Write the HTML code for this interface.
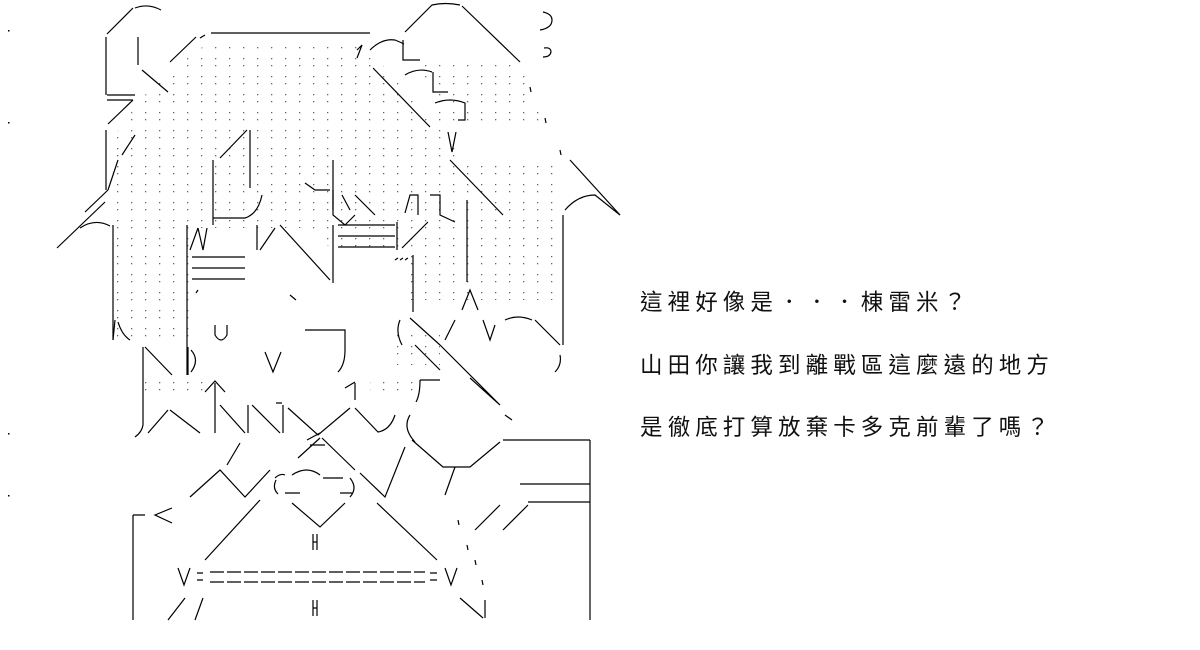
<!DOCTYPE html>
<html><head><meta charset="utf-8"><style>
html,body{margin:0;padding:0;background:#fff;width:1200px;height:650px;overflow:hidden}
.t{position:absolute;left:640px;font-family:"Liberation Sans","Noto Sans CJK TC","WenQuanYi Zen Hei",sans-serif;font-size:22.5px;color:#111;letter-spacing:5.1px;white-space:nowrap}
svg{position:absolute;left:0;top:0}
</style></head><body>
<svg width="1200" height="650" viewBox="0 0 1200 650">
<defs>
<pattern id="d" width="14" height="18" patternUnits="userSpaceOnUse">
<rect x="5" y="4" width="1.3" height="1.3" fill="#666"/><rect x="5" y="11" width="1.3" height="1.3" fill="#666"/>
</pattern>
</defs>
<g fill="url(#d)">
<polygon points="205,45 365,45 380,62 430,120 470,160 560,165 560,300 400,300 400,252 335,250 300,228 200,228 200,340 115,340 115,135 140,100 165,75"/>
<polygon points="420,60 520,62 545,125 440,125"/>
<polygon points="395,330 440,330 440,365 395,365"/>
<polygon points="145,378 210,378 210,400 145,400"/>
<polygon points="370,378 415,378 415,400 370,400"/>
</g>
<g fill="#000">
<rect x="8" y="30" width="1.5" height="1.5"/><rect x="8" y="122" width="1.5" height="1.5"/><rect x="8" y="433" width="1.5" height="1.5"/><rect x="8" y="495" width="1.5" height="1.5"/>
</g>
<g stroke="#000" stroke-width="1.2" fill="none">
<path d="M107,34 L133,8 M135,8 Q148,3 161,10"/>
<path d="M106,37 V95 M138,37 V65 M107,95 H135 M142,70 L168,92"/>
<path d="M170,62 L196,37 M200,38 L205,35 M211,33 H370"/>
<path d="M107,100 L133,100 M108,124 L133,100 M106,130 V190 M108,190 L118,160 M122,155 L135,135"/>
<path d="M85,212 L108,190 M57,248 L105,202 M80,228 Q95,218 110,226"/>
<path d="M247,130 L220,158 M250,130 V188 M213,160 V225 M213,218 H245 Q258,214 262,195"/>
<path d="M305,183 L315,190 H330 M333,160 V210 M342,195 L350,210"/>
<path d="M370,50 Q382,38 395,40 Q400,42 404,44 M357,50 L362,45 L357,58"/>
<path d="M403,40 V60 H420 M405,32 L432,5 Q445,2 460,5 M462,6 L520,62"/>
<path d="M373,68 L430,127 M405,75 Q418,67 432,72 M433,72 V92 H448 M435,103 Q450,97 465,103 V120 H458"/>
<path d="M448,132 L452,152 L456,132 M450,160 L503,215 M570,160 L620,215 M540,30 Q552,28 552,20 Q552,14 543,12 M544,48 Q551,47 551,52 Q550,57 543,57"/>
<path d="M530,87 L531,92 M545,118 L546,123 M560,150 L561,155"/>
<path d="M333,190 V215 L345,225 L355,215 M355,195 L375,215 M405,213 L410,195 H418 V215 M430,195 H440 V215 L455,222"/>
<path d="M563,215 V345 M565,210 Q578,195 595,195 L620,215 M467,200 V282 M413,255 V312"/>
<path d="M113,225 V340 M187,225 V375 M190,250 L198,228 M198,228 L203,250 L207,228"/>
<path d="M192,257 H245 M192,268 H245 M192,279 H245 M257,225 V250 M260,250 L275,228 M280,225 L330,280 M333,225 V283"/>
<path d="M338,225 H395 M338,236 H395 M338,247 H395 M397,222 V250 M402,248 L428,222"/>
<path d="M395,260 L398,258 M400,260 L403,258 M405,260 L408,258 M290,295 L296,300 M196,293 L198,290"/>
<path d="M462,310 L470,290 L478,310 M445,340 L455,320 M483,320 L490,340 L495,325 M505,320 Q518,314 532,320 M535,320 L560,345 M560,355 Q562,365 555,372"/>
<path d="M400,320 Q395,332 402,345 M410,318 L440,345 M415,345 L440,370 M440,345 L500,405 M470,378 L500,405 M505,415 L512,420"/>
<path d="M215,325 V335 Q221,345 227,335 V325 M305,330 H345 V350 Q345,365 338,372"/>
<path d="M115,320 L113,340 M118,322 Q122,335 130,340 M143,347 V425 Q142,432 135,437 M145,347 L172,375"/>
<path d="M188,347 V375 M191,350 Q200,360 191,372 M265,352 L273,372 L281,352"/>
<path d="M420,380 H440 M420,380 Q420,395 416,402 M345,388 L355,382 M355,383 V400"/>
<path d="M148,433 L168,410 M170,410 L200,433 M205,392 L215,381 L225,392 M215,383 V433 M220,405 L245,433 M248,405 V433 M252,405 L280,433 M283,405 V433 M276,403 H282"/>
<path d="M288,408 L318,435 L350,408 M355,408 L378,432 Q390,430 395,415 M410,415 Q402,428 415,442"/>
<path d="M227,465 L240,443 M320,433 L307,440 M310,445 H325 M298,458 L320,438 M322,438 L355,470"/>
<path d="M190,497 L220,470 L245,497 L270,470 M275,478 Q280,473 285,475 M276,480 Q272,488 278,494 M285,493 H300 M292,475 Q307,465 320,475 M323,478 H343 M340,493 H353 M350,478 Q358,488 350,497"/>
<path d="M360,473 L385,497 L405,447 M412,440 L443,467 H470 L500,442 M503,440 H590 M590,440 V620"/>
<path d="M292,503 L320,527 L345,503 M205,560 L260,500 M377,503 L437,560"/>
<path d="M520,484 H590 M528,502 H590 M475,530 L500,505 M503,530 L528,505 M445,495 L455,467"/>
<path d="M458,520 L459,525 M467,545 L468,550 M475,560 L476,565 M482,580 L483,585"/>
<path d="M133,515 V620 M133,515 H145 M172,508 L155,515 L172,523"/>
<path d="M178,568 L184,585 L190,568 M445,568 L451,585 L457,568"/>
<path d="M197,573 H203 M197,580 H203 M210,572 H425 M210,582 H425 M430,573 H437 M430,580 H437" stroke-dasharray="14,3"/>
<path d="M313,534 V550 M317,534 V550 M313,542 H317 M313,600 V616 M317,600 V616 M313,608 H317"/>
<path d="M168,620 L185,598 M195,620 L203,598 M460,598 L483,618 M485,600 V618"/>
</g>
</svg>
<div class="t" style="top:285px">這裡好像是．．．棟雷米？</div>
<div class="t" style="top:348px">山田你讓我到離戰區這麼遠的地方</div>
<div class="t" style="top:410px">是徹底打算放棄卡多克前輩了嗎？</div>
</body></html>
